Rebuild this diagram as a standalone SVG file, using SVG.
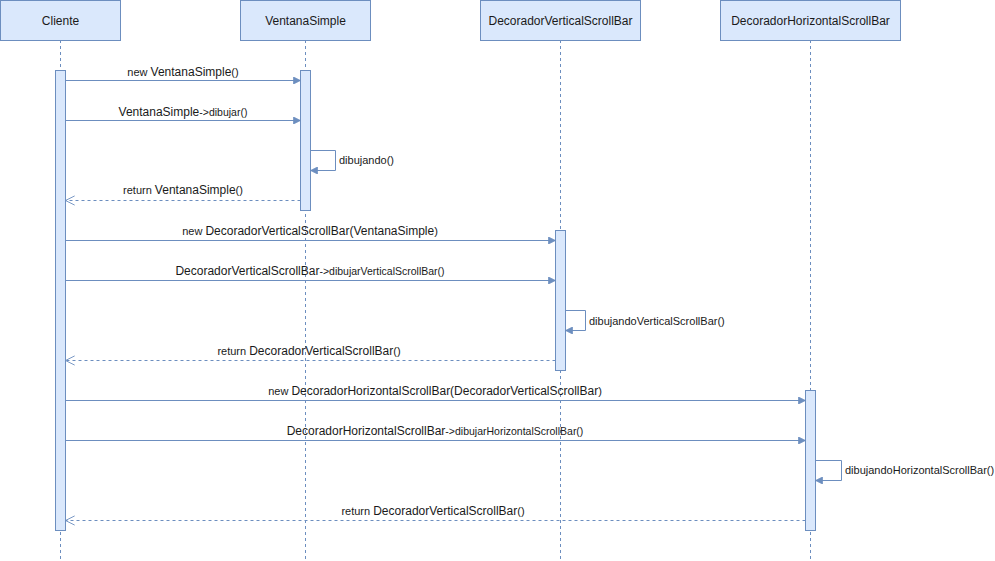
<svg xmlns="http://www.w3.org/2000/svg" width="995" height="561" viewBox="0 0 995 561">
<style>
.box{fill:#dae8fc;stroke:#6c8ebf;stroke-width:1}
.life{stroke:#6c8ebf;stroke-width:1;stroke-dasharray:3 3;fill:none}
.msg{stroke:#6c8ebf;stroke-width:1;fill:none}
.ret{stroke:#6c8ebf;stroke-width:1;fill:none;stroke-dasharray:3 3}
.hd{font-family:"Liberation Sans",Arial,sans-serif;font-size:12px;fill:#1a1a1a;text-anchor:middle}
.lb{font-family:"Liberation Sans",Arial,sans-serif;font-size:11px;fill:#1a1a1a;text-anchor:middle}
.ls{font-family:"Liberation Sans",Arial,sans-serif;font-size:11px;fill:#1a1a1a;text-anchor:start}
.big{font-size:12px}
.sm{font-size:10.5px}
</style>
<defs>
<marker id="blk" viewBox="0 0 10 10" refX="10" refY="5" markerWidth="9" markerHeight="7" markerUnits="userSpaceOnUse" orient="auto">
<path d="M0,0 L10,5 L0,10 Z" fill="#6c8ebf" stroke="#6c8ebf"/>
</marker>
<marker id="opn" viewBox="0 0 12 12" refX="11" refY="6" markerWidth="11" markerHeight="11" markerUnits="userSpaceOnUse" orient="auto">
<path d="M1,1 L11,6 L1,11" fill="none" stroke="#6c8ebf" stroke-width="1"/>
</marker>
</defs>
<g id="lifelines">
<line class="life" x1="60.5" y1="40" x2="60.5" y2="560"/>
<line class="life" x1="305.5" y1="40" x2="305.5" y2="560"/>
<line class="life" x1="560.5" y1="40" x2="560.5" y2="560"/>
<line class="life" x1="810.5" y1="40" x2="810.5" y2="560"/>
</g>
<g id="cliente">
<rect class="box" x="0.5" y="0.5" width="120" height="40"/>
<text class="hd" x="60.5" y="24.5">Cliente</text>
<rect class="box" x="55.5" y="70.5" width="10" height="460"/>
</g>
<g id="ventanaSimple">
<rect class="box" x="240.5" y="0.5" width="130" height="40"/>
<text class="hd" x="305.5" y="24.5">VentanaSimple</text>
<rect class="box" x="300.5" y="70.5" width="10" height="140"/>
</g>
<g id="decoradorVertical">
<rect class="box" x="480.5" y="0.5" width="160" height="40"/>
<text class="hd" x="560.5" y="24.5">DecoradorVerticalScrollBar</text>
<rect class="box" x="555.5" y="230.5" width="10" height="140"/>
</g>
<g id="decoradorHorizontal">
<rect class="box" x="720.5" y="0.5" width="180" height="40"/>
<text class="hd" x="810.5" y="24.5">DecoradorHorizontalScrollBar</text>
<rect class="box" x="805.5" y="390.5" width="10" height="140"/>
</g>
<g id="connectors">
<line class="msg" x1="65.5" y1="80.5" x2="300.5" y2="80.5" marker-end="url(#blk)"/>
<line class="msg" x1="65.5" y1="120.5" x2="300.5" y2="120.5" marker-end="url(#blk)"/>
<path class="msg" d="M310.5,150.5 L335.5,150.5 L335.5,170.5 L310.5,170.5" marker-end="url(#blk)"/>
<line class="ret" x1="300.5" y1="200.5" x2="65.5" y2="200.5" marker-end="url(#opn)"/>
<line class="msg" x1="65.5" y1="240.5" x2="555.5" y2="240.5" marker-end="url(#blk)"/>
<line class="msg" x1="65.5" y1="280.5" x2="555.5" y2="280.5" marker-end="url(#blk)"/>
<path class="msg" d="M565.5,310.5 L585.5,310.5 L585.5,330.5 L565.5,330.5" marker-end="url(#blk)"/>
<line class="ret" x1="555.5" y1="360.5" x2="65.5" y2="360.5" marker-end="url(#opn)"/>
<line class="msg" x1="65.5" y1="400.5" x2="805.5" y2="400.5" marker-end="url(#blk)"/>
<line class="msg" x1="65.5" y1="440.5" x2="805.5" y2="440.5" marker-end="url(#blk)"/>
<path class="msg" d="M815.5,460.5 L841.5,460.5 L841.5,480.5 L815.5,480.5" marker-end="url(#blk)"/>
<line class="ret" x1="805.5" y1="520.5" x2="65.5" y2="520.5" marker-end="url(#opn)"/>
</g>
<g id="labels">
<text class="lb" x="183" y="76">new <tspan class="big">VentanaSimple</tspan>()</text>
<text class="lb" x="183" y="116"><tspan class="big">VentanaSimple</tspan><tspan class="sm">-&gt;dibujar()</tspan></text>
<text class="ls" x="339" y="164">dibujando()</text>
<text class="lb" x="183" y="194">return <tspan class="big">VentanaSimple</tspan>()</text>
<text class="lb" x="310" y="235">new <tspan class="big">DecoradorVerticalScrollBar(VentanaSimple</tspan>)</text>
<text class="lb" x="310" y="275"><tspan class="big">DecoradorVerticalScrollBar</tspan><tspan class="sm">-&gt;dibujarVerticalScrollBar()</tspan></text>
<text class="ls" x="589" y="325">dibujandoVerticalScrollBar()</text>
<text class="lb" x="309" y="355">return <tspan class="big">DecoradorVerticalScrollBar</tspan>()</text>
<text class="lb" x="435" y="395">new <tspan class="big">DecoradorHorizontalScrollBar(DecoradorVerticalScrollBar</tspan>)</text>
<text class="lb" x="435" y="435"><tspan class="big">DecoradorHorizontalScrollBar</tspan><tspan class="sm">-&gt;dibujarHorizontalScrollBar()</tspan></text>
<text class="ls" x="845" y="474">dibujandoHorizontalScrollBar()</text>
<text class="lb" x="433" y="515">return <tspan class="big">DecoradorVerticalScrollBar</tspan>()</text>
</g>
</svg>
